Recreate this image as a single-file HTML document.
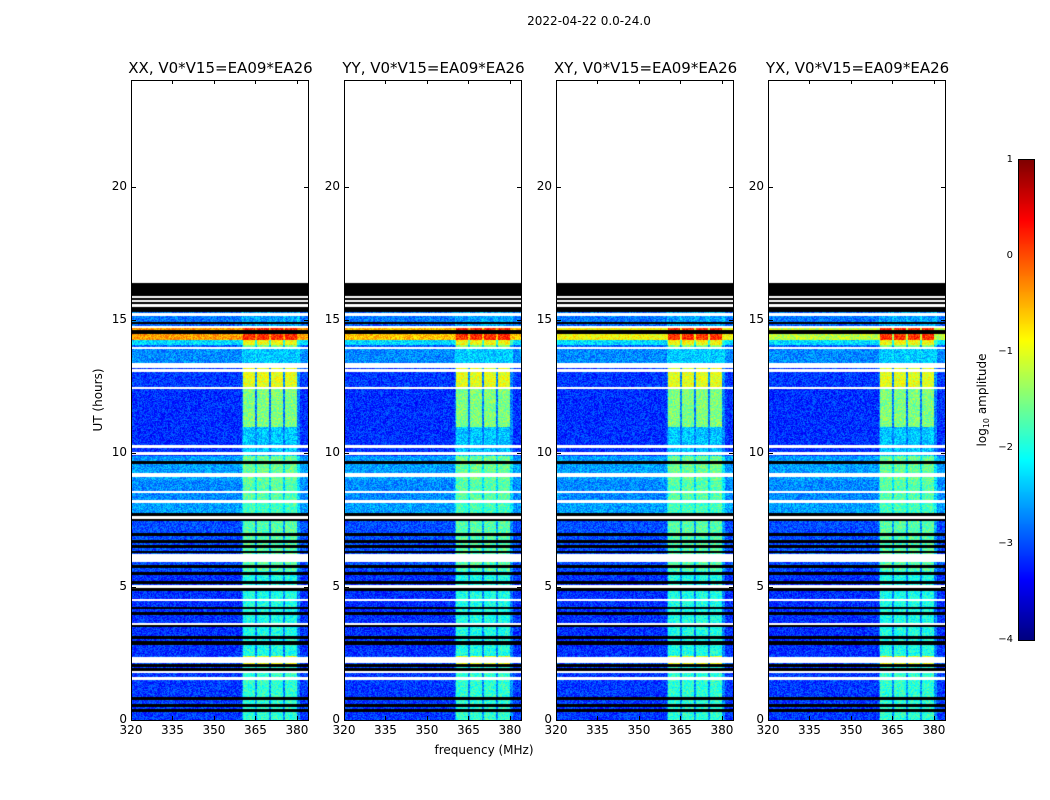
<!DOCTYPE html>
<html><head><meta charset="utf-8"><style>
body{margin:0;background:#fff;width:1050px;height:800px;overflow:hidden;position:relative;font-family:"DejaVu Sans","Liberation Sans",sans-serif;color:#000}
.abs{position:absolute}
.pt{position:absolute;font-size:15px;white-space:nowrap;transform:translateX(-50%)}
.tk{position:absolute;font-size:12px;white-space:nowrap}
canvas{position:absolute}
.frame{position:absolute;border:1px solid #000;box-sizing:border-box}
</style></head><body>
<div class="abs" style="left:589px;top:14px;font-size:12px;transform:translateX(-50%)">2022-04-22 0.0-24.0</div>
<div class="abs" style="left:484px;top:743px;font-size:12px;transform:translateX(-50%)">frequency (MHz)</div>
<div class="abs" style="left:98px;top:400px;font-size:12px;transform:translate(-50%,-50%) rotate(-90deg);white-space:nowrap">UT (hours)</div>
<div id="root"></div>
<canvas id="cb" width="15" height="480" style="left:1019px;top:160px"></canvas>
<div class="frame" style="left:1018px;top:159px;width:17px;height:482px"></div>
<div class="abs" style="left:983px;top:400px;font-size:12px;transform:translate(-50%,-50%) rotate(-90deg);white-space:nowrap">log<sub style="font-size:8px">10</sub> amplitude</div>
<script>
const panelTitles=["XX, V0*V15=EA09*EA26","YY, V0*V15=EA09*EA26","XY, V0*V15=EA09*EA26","YX, V0*V15=EA09*EA26"];
const xTicks=[320,335,350,365,380];
const yTicks=[0,5,10,15,20];
const cbTicks=[1,0,-1,-2,-3,-4];
// segments: [startHour, endHour, bgLevel, bandLevel]
const segStart=[0,2.0,2.4,5.6,7.6,8.2,9.0,9.9,11.0,12.5,13.4,13.95,14.05,14.25,14.7,14.9,15.3];
const segEnd=[2.0,2.4,5.6,7.6,8.2,9.0,9.9,11.0,12.5,13.4,13.95,14.05,14.25,14.7,14.9,15.3,16.4];
const segBg=[-3.1,-3.0,-3.15,-3.0,-2.6,-2.7,-2.6,-3.15,-3.15,-3.1,-2.7,-2.9,-2.3,-0.5,-2.9,-2.8,-4];
const segBand=[-1.9,-1.0,-2.0,-1.7,-1.8,-1.7,-1.6,-2.4,-1.5,-1.0,-2.4,-1.5,-0.9,0.15,-2.6,-2.6,-4];
const hotPanelLevel=[-0.4,-0.6,-0.9,-1.2];
const whiteLines=[[1.55,0.05],[1.8,0.05],[2.25,0.15],[3.6,0.05],[4.5,0.05],[5.0,0.05],[6.0,0.08],[6.15,0.08],[7.6,0.06],[8.2,0.08],[8.55,0.05],[9.2,0.12],[10.0,0.05],[10.25,0.05],[12.45,0.05],[13.1,0.05],[13.3,0.15],[13.95,0.05],[14.75,0.04],[15.2,0.05],[15.55,0.05],[15.7,0.04],[15.85,0.04]];
const blackLines=[[0.35,0.06],[0.55,0.06],[0.8,0.05],[1.9,0.06],[2.05,0.06],[2.9,0.12],[3.1,0.05],[3.55,0.05],[4.0,0.06],[4.2,0.05],[4.9,0.1],[5.15,0.05],[5.5,0.05],[5.75,0.05],[6.3,0.05],[6.5,0.06],[6.7,0.05],[6.95,0.05],[7.5,0.05],[7.7,0.05],[9.65,0.08],[14.55,0.08],[14.9,0.03]];
const blackBlock=[15.3,16.4];
const bandLo=[360.5,365.5,370.6,375.6];
const bandHi=[364.8,369.8,374.9,379.9];
const X0=320,X1=384,Y0=0,Y1=24;
const panelLeft=[131,344,556,768],PW=177,PT=80,PH=640;
function jet(v){let t=(v+4)/5;t=Math.max(0,Math.min(1,t));
 const f=(a)=>Math.max(0,Math.min(1,a));
 return [f(1.5-Math.abs(4*t-3))*255,f(1.5-Math.abs(4*t-2))*255,f(1.5-Math.abs(4*t-1))*255];}
function hash(a,b){let h=(a*374761393+b*668265263)|0;h=(h^(h>>>13))*1274126177|0;return ((h^(h>>>16))>>>0)/4294967296;}
const root=document.getElementById('root');
function xs(f){return (f-X0)/(X1-X0)*PW;}
function ys(h){return PH-(h-Y0)/(Y1-Y0)*PH;}
panelLeft.forEach((L,p)=>{
 const c=document.createElement('canvas');c.width=PW;c.height=PH;c.style.left=L+'px';c.style.top=PT+'px';
 
 
 root.appendChild(c);
 const ctx=c.getContext('2d');const img=ctx.createImageData(PW,PH);
 for(let y=0;y<PH;y++){
  const hr=Y1-(y+0.5)/PH*(Y1-Y0);
  let kind='data';
  if(hr>blackBlock[1])kind='white';
  else if(hr>=blackBlock[0])kind='black';
  for(const w of whiteLines)if(Math.abs(hr-w[0])<w[1]/2+0.019)kind='white';
  for(const b of blackLines)if(Math.abs(hr-b[0])<b[1]/2+0.019&&kind==='data')kind='black';
  let si=segStart.findIndex((s,i)=>hr>=s&&hr<segEnd[i]);
  let bg=si>=0?segBg[si]:-3.1, bd=si>=0?segBand[si]:-1.8;
  if(si===13)bg=hotPanelLevel[p];
  for(let x=0;x<PW;x++){
   const i=(y*PW+x)*4;let col;
   if(kind==='white')col=[255,255,255];
   else if(kind==='black')col=[0,0,0];
   else{
    const f=X0+(x+0.5)/PW*(X1-X0);let v=bg;
    for(let k=0;k<4;k++)if(f>=bandLo[k]&&f<bandHi[k])v=Math.max(bg,bd);
    if(f>=360&&f<381&&v===bg&&bg<-2)v=bg+0.4;
    v+=(hash(x+p*1000,y)-0.5)*0.7;
    col=jet(v);
   }
   img.data[i]=col[0];img.data[i+1]=col[1];img.data[i+2]=col[2];img.data[i+3]=255;
  }
 }
 ctx.putImageData(img,0,0);
 const fr=document.createElement('div');fr.className='frame';
 fr.style.cssText=`left:${L}px;top:${PT}px;width:${PW+1}px;height:${PH+1}px`;
 
 
 root.appendChild(fr);
 const t=document.createElement('div');t.className='pt';t.textContent=panelTitles[p];
 t.style.left=(L+PW/2+1)+'px';t.style.top='59px';
 
 
 root.appendChild(t);
 xTicks.forEach(v=>{const d=document.createElement('div');d.className='tk';d.textContent=v;
  d.style.left=(L+xs(v))+'px';d.style.top='723px';d.style.transform='translateX(-50%)';
  
  
  root.appendChild(d);
  ['top','bot'].forEach(s=>{const m=document.createElement('div');m.className='abs';
   m.style.cssText=`left:${L+xs(v)}px;top:${s==='top'?PT:PT+PH-4}px;width:1px;height:4px;background:#000`;
   
   
   root.appendChild(m);});
 });
 yTicks.forEach(v=>{const d=document.createElement('div');d.className='tk';d.textContent=v;
  d.style.left=(L-4)+'px';d.style.top=(PT+ys(v)-8)+'px';d.style.transform='translateX(-100%)';
  
  
  root.appendChild(d);
  [0,PW-4].forEach(o=>{const m=document.createElement('div');m.className='abs';
   m.style.cssText=`left:${L+o}px;top:${PT+ys(v)}px;width:5px;height:1px;background:#000`;
   
   
   root.appendChild(m);});
 });
});
const cb=document.getElementById('cb').getContext('2d');
for(let y=0;y<480;y++){const v=1-(y+0.5)/480*5;const c=jet(v);cb.fillStyle=`rgb(${c[0]|0},${c[1]|0},${c[2]|0})`;cb.fillRect(0,y,15,1);}
cbTicks.forEach(v=>{const d=document.createElement('div');d.className='tk';
 d.style.fontSize='10px';d.textContent=v<0?'\u2212'+(-v):v;
 d.style.left='1013px';d.style.top=(160+(1-v)/5*480-6)+'px';d.style.transform='translateX(-100%)';
 
 
 root.appendChild(d);});
</script>
</body></html>
